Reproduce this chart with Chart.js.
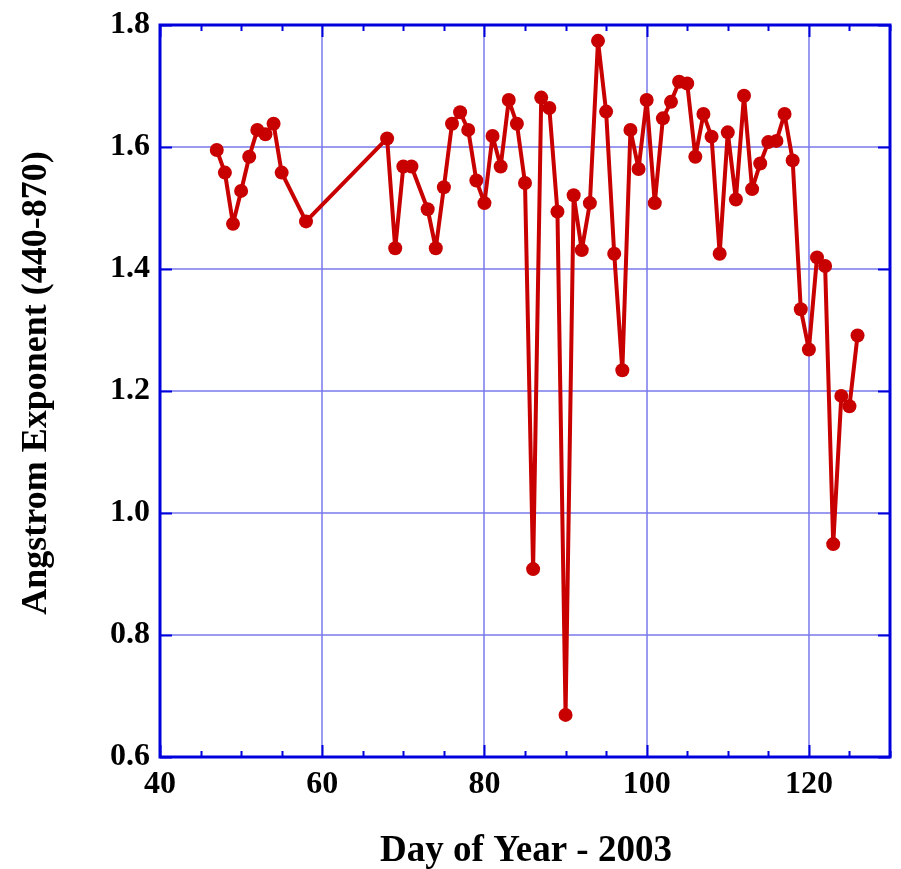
<!DOCTYPE html>
<html>
<head>
<meta charset="utf-8">
<script src="https://cdn.jsdelivr.net/npm/chart.js@4.4.1/dist/chart.umd.min.js"></script>
<style>
  html, body { margin: 0; padding: 0; background: #fff; }
  canvas { display: block; }
</style>
</head>
<body>
<canvas id="angstrom" width="901" height="869" style="width:901px;height:869px"></canvas>
<script>
// Day of year and Angstrom exponent (440-870), 2003
const days = [
  47, 48, 49, 50, 51, 52, 53, 54, 55, 58,
  68, 69, 70, 71, 73, 74, 75, 76, 77, 78, 79, 80,
  81, 82, 83, 84, 85, 86, 87, 88, 89, 90,
  91, 92, 93, 94, 95, 96, 97, 98, 99, 100,
  101, 102, 103, 104, 105, 106, 107, 108, 109, 110,
  111, 112, 113, 114, 115, 116, 117, 118, 119, 120,
  121, 122, 123, 124, 125, 126
];
const angstrom = [
  1.595, 1.558, 1.474, 1.528, 1.584, 1.628, 1.621, 1.638, 1.558, 1.478,
  1.614, 1.434, 1.568, 1.568, 1.498, 1.434, 1.534, 1.638, 1.657, 1.628, 1.545, 1.508,
  1.618, 1.568, 1.677, 1.638, 1.541, 0.908, 1.681, 1.664, 1.494, 0.669,
  1.521, 1.431, 1.508, 1.774, 1.658, 1.425, 1.234, 1.628, 1.564, 1.677,
  1.508, 1.647, 1.674, 1.707, 1.704, 1.584, 1.654, 1.617, 1.425, 1.624,
  1.514, 1.684, 1.531, 1.573, 1.608, 1.610, 1.654, 1.578, 1.334, 1.268,
  1.419, 1.405, 0.949, 1.192, 1.175, 1.291
];

const xTitle = "Day of Year - 2003";
const yTitle = "Angstrom Exponent (440-870)";

const frameColor = "#0000dd";
const gridColor = "rgba(120,120,235,0.75)";
const serif = "'Liberation Serif', 'Times New Roman', serif";

// box around the plot, inward ticks on all four sides, and the axis titles
const framePlugin = {
  id: "frame",
  afterDatasetsDraw(chart) {
    const { ctx, chartArea: a, scales } = chart;
    const xs = scales.x, ys = scales.y;
    ctx.save();
    ctx.strokeStyle = frameColor;
    ctx.lineWidth = 2;
    // x ticks: major every 20, minor every 5
    for (let d = 40; d <= 130; d += 5) {
      const px = Math.round(xs.getPixelForValue(d)) + 0.5;
      const len = d % 20 === 0 ? 12 : 6;
      ctx.beginPath();
      ctx.moveTo(px, a.bottom); ctx.lineTo(px, a.bottom - len);
      ctx.moveTo(px, a.top); ctx.lineTo(px, a.top + len);
      ctx.stroke();
    }
    // y ticks every 0.2
    for (let v = 0.6; v <= 1.81; v += 0.2) {
      const py = Math.round(ys.getPixelForValue(v)) + 0.5;
      ctx.beginPath();
      ctx.moveTo(a.left, py); ctx.lineTo(a.left + 12, py);
      ctx.moveTo(a.right, py); ctx.lineTo(a.right - 12, py);
      ctx.stroke();
    }
    ctx.lineWidth = 3;
    ctx.strokeRect(a.left, a.top, a.right - a.left, a.bottom - a.top);

    // axis titles
    ctx.fillStyle = "#000";
    ctx.textAlign = "center";
    ctx.textBaseline = "middle";
    ctx.font = "bold 37px " + serif;
    ctx.fillText(xTitle, 526, 851);
    ctx.save();
    ctx.translate(37, 383);
    ctx.rotate(-Math.PI / 2);
    ctx.font = "bold 36px " + serif;
    ctx.fillText(yTitle, 0, 0);
    ctx.restore();
    ctx.restore();
  }
};

const canvas = document.getElementById("angstrom");
const chart = new Chart(canvas, {
  type: "line",
  data: {
    datasets: [{
      data: days.map((d, i) => ({ x: d, y: angstrom[i] })),
      borderColor: "#c80000",
      backgroundColor: "#c80000",
      borderWidth: 4,
      borderJoinStyle: "round",
      pointRadius: 7,
      pointHoverRadius: 7,
      pointBorderWidth: 0,
      tension: 0
    }]
  },
  options: {
    responsive: false,
    maintainAspectRatio: false,
    animation: false,
    devicePixelRatio: 1,
    layout: { padding: { top: 25, right: 11, left: 0, bottom: 0 } },
    plugins: { legend: { display: false }, tooltip: { enabled: false } },
    scales: {
      x: {
        type: "linear",
        min: 40,
        max: 130,
        afterBuildTicks: (s) => { s.ticks = [40, 60, 80, 100, 120].map(v => ({ value: v })); },
        afterFit: (s) => { s.height = 112; s.paddingLeft = 0; s.paddingRight = 0; },
        border: { display: false },
        grid: { color: gridColor, lineWidth: 2, drawTicks: false },
        ticks: {
          padding: 9,
          color: "#000",
          font: { family: serif, size: 32, weight: "bold" },
          maxRotation: 0
        }
      },
      y: {
        min: 0.6,
        max: 1.8,
        afterFit: (s) => { s.width = 160; s.paddingTop = 0; s.paddingBottom = 0; },
        border: { display: false },
        grid: { color: gridColor, lineWidth: 2, drawTicks: false },
        ticks: {
          stepSize: 0.2,
          padding: 10,
          color: "#000",
          font: { family: serif, size: 32, weight: "bold" },
          callback: (v) => v.toFixed(1)
        }
      }
    }
  },
  plugins: [framePlugin]
});
</script>
</body>
</html>
